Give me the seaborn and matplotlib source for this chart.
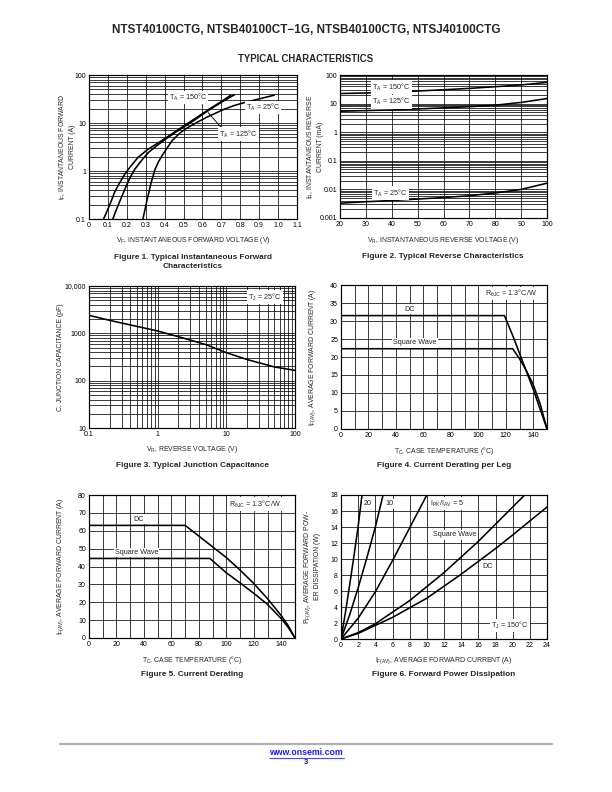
import numpy as np
import pandas as pd
import matplotlib
matplotlib.use("Agg")
import matplotlib.pyplot as plt
from matplotlib.ticker import FixedLocator, FixedFormatter, MultipleLocator, NullFormatter, LogLocator
import seaborn as sns

sns.set_style("white")
plt.rcParams['font.family'] = ['Liberation Sans', 'DejaVu Sans']
plt.rcParams['mathtext.default'] = 'regular'

# ---------------- Figure 1 data ----------------
f1_vf_150 = [0.077, 0.09, 0.10, 0.12, 0.135, 0.16, 0.19, 0.22, 0.26, 0.31, 0.37, 0.42,
             0.477, 0.53, 0.585, 0.64, 0.694, 0.75]
f1_if_150 = [0.1, 0.13, 0.16, 0.25, 0.36, 0.55, 0.87, 1.25, 1.93, 2.8, 3.95, 5.3,
             7.5, 10.3, 14.3, 20, 27, 38]
f1_vf_125 = [0.126, 0.14, 0.16, 0.19, 0.215, 0.243, 0.28, 0.315, 0.36, 0.405, 0.46,
             0.513, 0.565, 0.62, 0.66, 0.70, 0.77]
f1_if_125 = [0.1, 0.14, 0.22, 0.42, 0.7, 1.1, 1.7, 2.45, 3.4, 4.6, 6.5,
             8.8, 12, 17, 21.5, 27, 39]
f1_vf_25 = [0.285, 0.295, 0.306, 0.318, 0.33, 0.35, 0.367, 0.387, 0.41, 0.44, 0.475,
            0.51, 0.55, 0.585, 0.62, 0.66, 0.71, 0.766, 0.82, 0.874, 0.93, 0.98]
f1_if_25 = [0.1, 0.15, 0.24, 0.38, 0.6, 1.1, 1.55, 2.1, 2.9, 4.3, 5.9,
            7.5, 9.3, 11, 13, 15.4, 19, 23, 26.5, 30, 34, 38]

# ---------------- Figure 2 data ----------------
f2_vr = [20, 30, 40, 50, 60, 70, 80, 90, 100]
f2_ir_150 = [22.5, 23.5, 25, 27.5, 30.5, 34, 39, 45, 55]
f2_ir_125 = [5.4, 5.7, 6.0, 6.5, 7.1, 7.8, 8.8, 11, 15]
f2_ir_25 = [0.0033, 0.0037, 0.0041, 0.0046, 0.0052, 0.006, 0.0075, 0.01, 0.0165]

# ---------------- Figure 3 data ----------------
f3_vr = [0.1, 0.2, 0.5, 1, 2, 5, 10, 20, 50, 100]
f3_c = [2400, 1880, 1400, 1120, 850, 580, 390, 280, 195, 165]

# ---------------- Figure 4 data ----------------
f4_dc_t = [0, 119, 125, 130, 135, 140, 145, 150]
f4_dc_i = [31.5, 31.5, 26, 21, 16, 11, 5.5, 0]
f4_sw_t = [0, 125, 130, 135, 140, 145, 150]
f4_sw_i = [22.3, 22.3, 19.5, 16.2, 12.3, 7, 0]

# ---------------- Figure 5 data ----------------
f5_dc_t = [0, 70, 80, 90, 100, 110, 120, 130, 140, 145, 150]
f5_dc_i = [63, 63, 57, 51, 45, 38, 30.5, 22, 12.5, 7, 0]
f5_sw_t = [0, 88, 100, 110, 120, 130, 140, 145, 150]
f5_sw_i = [44.5, 44.5, 36.5, 30.8, 25, 18.8, 10.8, 6, 0]

# ---------------- Figure 6 data ----------------
f6_i_20 = [0, 0.5, 1, 1.5, 2, 2.45]
f6_p_20 = [0, 3.2, 6.7, 10.3, 14.1, 18]
f6_i_10 = [0, 1, 2, 3, 4, 4.9]
f6_p_10 = [0, 3.0, 6.4, 10.1, 14, 18]
f6_i_5 = [0, 2, 4, 6, 8, 10]
f6_p_5 = [0, 2.6, 5.9, 9.8, 13.9, 18]
f6_i_sq = [0, 2, 4, 8, 12, 16, 20, 21.4]
f6_p_sq = [0, 0.8, 1.9, 4.8, 8.3, 12.2, 16.5, 18]
f6_i_dc = [0, 2, 6, 10, 14, 18, 20, 24]
f6_p_dc = [0, 0.7, 2.7, 5.1, 8.1, 11.3, 13, 16.5]

W, H = 612, 792
fig = plt.figure(figsize=(W / 72, H / 72), dpi=72)

TICK_FS = 7
LAB_FS = 6.9
CAP_FS = 8.3
ANN_FS = 7.2
LW = 1.6
BOX = dict(facecolor='white', edgecolor='none', pad=1.2)


def make_ax(l, t, r, b):
    return fig.add_axes([l / W, 1 - b / H, (r - l) / W, (b - t) / H])


def style(ax):
    ax.set_facecolor('white')
    for s in ax.spines.values():
        s.set_visible(True)
        s.set_color('black')
        s.set_linewidth(1.2)
    ax.grid(True, which='both', color='black', linewidth=0.75)
    ax.set_axisbelow(True)
    ax.tick_params(which='both', length=0, labelsize=TICK_FS, pad=3, colors='black')
    ax.set_xlabel('')
    ax.set_ylabel('')


def xlab(ax, text, off=18):
    h = ax.get_position().height * H
    ax.text(0.5, -off / h, text, transform=ax.transAxes, ha='center', va='center', fontsize=LAB_FS)


def ylab(ax, text, off=25):
    w = ax.get_position().width * W
    ax.text(-off / w, 0.5, text, transform=ax.transAxes, ha='center', va='center',
            rotation=90, fontsize=LAB_FS, linespacing=1.2)


def line(ax, x, y):
    sns.lineplot(x=x, y=y, ax=ax, color='black', linewidth=LW, sort=False, estimator=None)


def ann(ax, x, y, text):
    ax.text(x, y, text, fontsize=ANN_FS, ha='center', va='center', bbox=BOX)


def caption(cx, y, text):
    fig.text(cx / W, 1 - y / H, text, ha='center', va='center', fontsize=CAP_FS,
             fontweight='bold', linespacing=1.25)


# ---------- Figure 1 ----------
ax1 = make_ax(89, 75, 297, 219)
line(ax1, f1_vf_150, f1_if_150)
line(ax1, f1_vf_125, f1_if_125)
line(ax1, f1_vf_25, f1_if_25)
ax1.set_yscale('log')
ax1.set_xlim(0, 1.1)
ax1.set_ylim(0.1, 100)
style(ax1)
ax1.xaxis.set_major_locator(FixedLocator(np.round(np.arange(0, 1.11, 0.1), 1)))
ax1.xaxis.set_major_formatter(FixedFormatter(['0', '0.1', '0.2', '0.3', '0.4', '0.5', '0.6', '0.7', '0.8', '0.9', '1.0', '1.1']))
ax1.yaxis.set_major_locator(FixedLocator([0.1, 1, 10, 100]))
ax1.yaxis.set_major_formatter(FixedFormatter(['0.1', '1', '10', '100']))
ax1.yaxis.set_minor_locator(LogLocator(base=10, subs=np.arange(2, 10)))
ax1.yaxis.set_minor_formatter(NullFormatter())
ann(ax1, 0.523, 34, 'T$_A$ = 150°C')
ann(ax1, 0.92, 21, 'T$_A$ = 25°C')
ax1.plot([0.63, 0.71], [16.5, 7.2], color='black', lw=0.9)
ann(ax1, 0.79, 5.9, 'T$_A$ = 125°C')
xlab(ax1, 'V$_F$, INSTANTANEOUS FORWARD VOLTAGE (V)', 22)
ylab(ax1, 'i$_F$, INSTANTANEOUS FORWARD\nCURRENT (A)', 22)
caption(193, 262, 'Figure 1. Typical Instantaneous Forward\nCharacteristics')

# ---------- Figure 2 ----------
ax2 = make_ax(340, 75, 547, 218)
line(ax2, f2_vr, f2_ir_150)
line(ax2, f2_vr, f2_ir_125)
line(ax2, f2_vr, f2_ir_25)
ax2.set_yscale('log')
ax2.set_xlim(20, 100)
ax2.set_ylim(0.001, 100)
style(ax2)
ax2.xaxis.set_major_locator(MultipleLocator(10))
ax2.yaxis.set_major_locator(FixedLocator([0.001, 0.01, 0.1, 1, 10, 100]))
ax2.yaxis.set_major_formatter(FixedFormatter(['0.001', '0.01', '0.1', '1', '10', '100']))
ax2.yaxis.set_minor_locator(LogLocator(base=10, subs=np.arange(2, 10)))
ax2.yaxis.set_minor_formatter(NullFormatter())
ann(ax2, 39.8, 38, 'T$_A$ = 150°C')
ann(ax2, 39.8, 11.5, 'T$_A$ = 125°C')
ann(ax2, 39.4, 0.0073, 'T$_A$ = 25°C')
xlab(ax2, 'V$_R$, INSTANTANEOUS REVERSE VOLTAGE (V)', 23)
ylab(ax2, 'I$_R$, INSTANTANEOUS REVERSE\nCURRENT (mA)', 25)
caption(443, 257, 'Figure 2. Typical Reverse Characteristics')

# ---------- Figure 3 ----------
ax3 = make_ax(89, 286, 295, 428)
line(ax3, f3_vr, f3_c)
ax3.set_xscale('log')
ax3.set_yscale('log')
ax3.set_xlim(0.1, 100)
ax3.set_ylim(10, 10000)
style(ax3)
ax3.xaxis.set_major_locator(FixedLocator([0.1, 1, 10, 100]))
ax3.xaxis.set_major_formatter(FixedFormatter(['0.1', '1', '10', '100']))
ax3.xaxis.set_minor_locator(LogLocator(base=10, subs=np.arange(2, 10)))
ax3.xaxis.set_minor_formatter(NullFormatter())
ax3.yaxis.set_major_locator(FixedLocator([10, 100, 1000, 10000]))
ax3.yaxis.set_major_formatter(FixedFormatter(['10', '100', '1000', '10,000']))
ax3.yaxis.set_minor_locator(LogLocator(base=10, subs=np.arange(2, 10)))
ax3.yaxis.set_minor_formatter(NullFormatter())
ann(ax3, 36.5, 5850, 'T$_J$ = 25°C')
xlab(ax3, 'V$_R$, REVERSE VOLTAGE (V)', 21)
ylab(ax3, 'C, JUNCTION CAPACITANCE (pF)', 28)
caption(192, 466, 'Figure 3. Typical Junction Capacitance')

# ---------- Figure 4 ----------
ax4 = make_ax(341, 285, 547, 429)
line(ax4, f4_dc_t, f4_dc_i)
line(ax4, f4_sw_t, f4_sw_i)
ax4.set_xlim(0, 150)
ax4.set_ylim(0, 40)
style(ax4)
ax4.xaxis.set_major_locator(FixedLocator([0, 20, 40, 60, 80, 100, 120, 140]))
ax4.xaxis.set_minor_locator(MultipleLocator(10))
ax4.yaxis.set_major_locator(MultipleLocator(5))
ann(ax4, 124, 37.6, 'R$_{θJC}$ = 1.3°C/W')
ann(ax4, 50, 33.3, 'DC')
ann(ax4, 54, 23.9, 'Square Wave')
xlab(ax4, 'T$_C$, CASE TEMPERATURE (°C)', 22)
ylab(ax4, 'I$_{F(AV)}$, AVERAGE FORWARD CURRENT (A)', 28)
caption(444, 466, 'Figure 4. Current Derating per Leg')

# ---------- Figure 5 ----------
ax5 = make_ax(89, 495, 295, 638)
line(ax5, f5_dc_t, f5_dc_i)
line(ax5, f5_sw_t, f5_sw_i)
ax5.set_xlim(0, 150)
ax5.set_ylim(0, 80)
style(ax5)
ax5.xaxis.set_major_locator(FixedLocator([0, 20, 40, 60, 80, 100, 120, 140]))
ax5.xaxis.set_minor_locator(MultipleLocator(10))
ax5.yaxis.set_major_locator(MultipleLocator(10))
ann(ax5, 121, 75, 'R$_{θJC}$ = 1.3°C/W')
ann(ax5, 36, 66.5, 'DC')
ann(ax5, 34.6, 47.7, 'Square Wave')
xlab(ax5, 'T$_C$, CASE TEMPERATURE (°C)', 22)
ylab(ax5, 'I$_{F(AV)}$, AVERAGE FORWARD CURRENT (A)', 28)
caption(192, 675, 'Figure 5. Current Derating')

# ---------- Figure 6 ----------
ax6 = make_ax(341, 495, 547, 639)
line(ax6, f6_i_20, f6_p_20)
line(ax6, f6_i_10, f6_p_10)
line(ax6, f6_i_5, f6_p_5)
line(ax6, f6_i_sq, f6_p_sq)
line(ax6, f6_i_dc, f6_p_dc)
ax6.set_xlim(0, 24)
ax6.set_ylim(0, 18)
style(ax6)
ax6.xaxis.set_major_locator(MultipleLocator(2))
ax6.yaxis.set_major_locator(MultipleLocator(2))
ann(ax6, 3.1, 16.9, '20')
ann(ax6, 5.6, 16.9, '10')
ann(ax6, 12.3, 16.9, 'I$_{PK}$/I$_{AV}$ = 5')
ann(ax6, 13.2, 13.0, 'Square Wave')
ann(ax6, 17.1, 9.0, 'DC')
ann(ax6, 19.7, 1.7, 'T$_J$ = 150°C')
xlab(ax6, 'I$_{F(AV)}$, AVERAGE FORWARD CURRENT (A)', 22)
ylab(ax6, 'P$_{F(AV)}$, AVERAGE FORWARD POW-\nER DISSIPATION (W)', 29)
caption(444, 675, 'Figure 6. Forward Power Dissipation')

# ---------- Header / footer ----------
fig.text(306 / W, 1 - 30 / H, 'NTST40100CTG, NTSB40100CT\u22121G, NTSB40100CTG, NTSJ40100CTG',
         ha='center', va='center', fontsize=11.8, fontweight='bold')
fig.text(306 / W, 1 - 59 / H, 'TYPICAL CHARACTERISTICS', ha='center', va='center',
         fontsize=9.6, fontweight='bold')
fig.add_artist(plt.Line2D([60 / W, 552 / W], [1 - 744 / H, 1 - 744 / H], color='#b0b0b0', lw=2.2))
fig.text(306 / W, 1 - 752.5 / H, 'www.onsemi.com', ha='center', va='center', fontsize=8.8,
         fontweight='bold', color='#1a1aff')
fig.add_artist(plt.Line2D([268.5 / W, 343.5 / W], [1 - 757.5 / H, 1 - 757.5 / H], color='#1a1aff', lw=0.8))
fig.text(306 / W, 1 - 763 / H, '3', ha='center', va='center', fontsize=7.5, fontweight='bold')

fig.savefig('out.png', dpi=72)
